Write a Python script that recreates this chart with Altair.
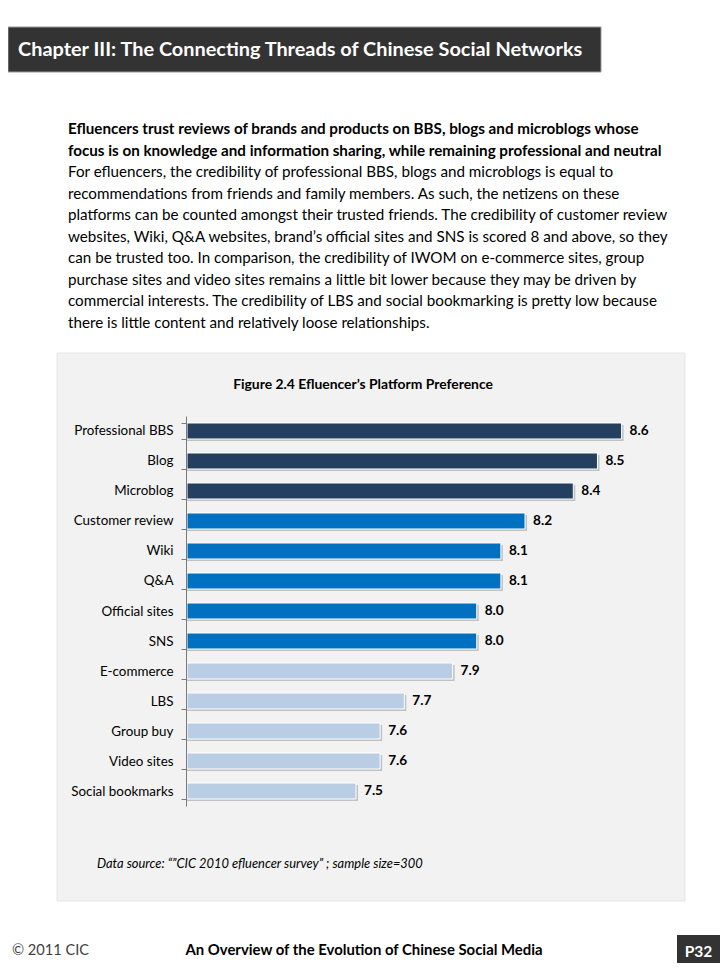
import altair as alt
import pandas as pd

# ---------------- data ----------------
platforms = ["Professional BBS", "Blog", "Microblog", "Customer review", "Wiki", "Q&A",
             "Official sites", "SNS", "E-commerce", "LBS", "Group buy", "Video sites",
             "Social bookmarks"]
scores = [8.6, 8.5, 8.4, 8.2, 8.1, 8.1, 8.0, 8.0, 7.9, 7.7, 7.6, 7.6, 7.5]
tiers = ["top", "top", "top", "mid", "mid", "mid", "mid", "mid",
         "low", "low", "low", "low", "low"]

header_title = "Chapter III: The Connecting Threads of Chinese Social Networks"
bold_lines = [
    "Efluencers trust reviews of brands and products on BBS, blogs and microblogs whose",
    "focus is on knowledge and information sharing, while remaining professional and neutral",
]
body_lines = [
    "For efluencers, the credibility of professional BBS, blogs and microblogs is equal to",
    "recommendations from friends and family members. As such, the netizens on these",
    "platforms can be counted amongst their trusted friends. The credibility of customer review",
    "websites, Wiki, Q&A websites, brand\u2019s official sites and SNS is scored 8 and above, so they",
    "can be trusted too. In comparison, the credibility of IWOM on e-commerce sites, group",
    "purchase sites and video sites remains a little bit lower because they may be driven by",
    "commercial interests. The credibility of LBS and social bookmarking is pretty low because",
    "there is little content and relatively loose relationships.",
]
figure_title = "Figure 2.4 Efluencer\u2019s Platform Preference"
source_note = "Data source: \u201c\u201dCIC 2010 efluencer survey\u201d ; sample size=300"
footer_left = "\u00a9 2011 CIC"
footer_center = "An Overview of the Evolution of Chinese Social Media"
page_label = "P32"

# ---------------- layout helpers ----------------
M = 8  # page margin


def px(v):
    return v - M


FONT = "Lato"
bars = pd.DataFrame({"platform": platforms, "score": scores, "tier": tiers})
one = pd.DataFrame({"k": [0]})

xs = alt.Scale(domain=[6.8, 8.6], range=[px(187), px(621.6)], zero=False, nice=False)
ys = alt.Scale(domain=platforms, range=[px(416), px(806)],
               paddingInner=0.467, paddingOuter=0.233)

yaxis = alt.Axis(title=None, orient="left", offset=-px(186), domain=True, ticks=True,
                 domainColor="#7a7a7a", domainWidth=1, tickColor="#7a7a7a", tickWidth=1,
                 tickSize=5, tickBand="extent", labelFont=FONT,
                 labelFontSize=13.4, labelColor="#000000", labelPadding=8, grid=False,
                 zindex=1)

base = alt.Chart(bars).encode(
    y=alt.Y("platform:N", scale=ys, axis=yaxis),
    x=alt.X("score:Q", scale=xs, axis=None),
)

shadow = base.mark_bar(color="#8f8f8f", opacity=0.5, xOffset=2, yOffset=2).encode(
    x2=alt.datum(6.8))
main = base.mark_bar(stroke="white", strokeWidth=1).encode(
    x2=alt.datum(6.8),
    color=alt.Color("tier:N", legend=None,
                    scale=alt.Scale(domain=["top", "mid", "low"],
                                    range=["#253F61", "#0070C0", "#B9CDE5"])),
)
labels = base.mark_text(align="left", baseline="middle", dx=8, font=FONT,
                        fontWeight="bold", fontSize=13.6, color="#000000").encode(
    text=alt.Text("score:Q", format=".1f"))


def rect(x0, x1, y0, y1, **kw):
    return alt.Chart(one).mark_rect(**kw).encode(
        x=alt.value(max(px(x0), 0)), x2=alt.value(px(x1)),
        y=alt.value(px(y0)), y2=alt.value(px(y1)))


def text(t, x, y, **kw):
    return alt.Chart(one).mark_text(font=FONT, **kw).encode(
        x=alt.value(px(x)), y=alt.value(px(y)), text=alt.value(t))


panel = rect(57, 685, 353, 901, fill="#F2F2F2", stroke="#E6E6E6", strokeWidth=1)
header_box = rect(0, 601, 27, 72, fill="#333333", stroke="#9a9a9a", strokeWidth=1)
header_txt = text(header_title, 18, 50, align="left", baseline="middle",
                  fontSize=19.9, fontWeight="bold", color="#FFFFFF")
para_bold = text(bold_lines, 68, 134, align="left", baseline="alphabetic",
                 fontSize=15.2, fontWeight="bold", lineHeight=21.5, color="#000000")
para_body = text(body_lines, 68, 177, align="left", baseline="alphabetic",
                 fontSize=15.2, lineHeight=21.5, color="#000000")
fig_title = text(figure_title, 363, 385, align="center", baseline="middle",
                 fontSize=13.9, fontWeight="bold", color="#000000")
source_txt = text(source_note, 97, 864, align="left", baseline="middle",
                  fontSize=12.9, fontStyle="italic", color="#000000")
foot_left = text(footer_left, 12, 951, align="left", baseline="middle",
                 fontSize=14.6, color="#404040")
foot_center = text(footer_center, 364, 951, align="center", baseline="middle",
                   fontSize=14.9, fontWeight="bold", color="#000000")
page_box = rect(677, 720, 935, 968, fill="#333333")
page_txt = text(page_label, 698.5, 952, align="center", baseline="middle",
                fontSize=15.5, fontWeight="bold", color="#FFFFFF")

chart = alt.layer(
    panel, shadow, main, labels,
    header_box, header_txt, para_bold, para_body, fig_title, source_txt,
    foot_left, foot_center, page_box, page_txt,
).properties(
    width=712, height=955, padding=0, background="#FFFFFF",
    autosize=alt.AutoSizeParams(type="none"),
).configure_view(stroke=None)

chart.save("out.html", embed_options={"renderer": "svg", "actions": False})
